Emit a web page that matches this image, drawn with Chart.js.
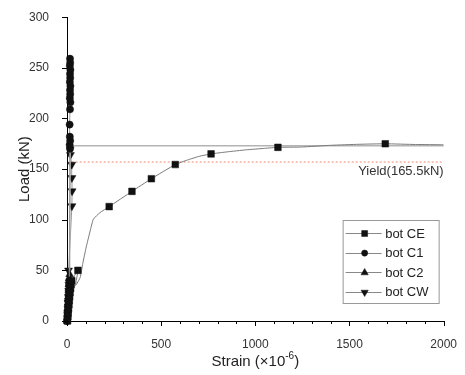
<!DOCTYPE html>
<html><head><meta charset="utf-8">
<script src="https://cdn.jsdelivr.net/npm/chart.js@4/dist/chart.umd.min.js"></script>
<style>html,body{margin:0;padding:0;background:#fff;}#wrap{width:465px;height:375px;}</style>
</head><body><div id="wrap"><canvas id="c" width="465" height="375"></canvas></div>
<script>
// ---- data ----
const seriesNames = ['bot CE', 'bot C1', 'bot C2', 'bot CW'];

const ceStrain = [2, 4, 6, 8, 10, 12, 14, 16, 19, 22, 25, 58, 45, 70, 84, 102, 123, 140, 175, 224, 345, 448, 575, 640, 700, 765, 850, 950, 1050, 1120, 1245, 1400, 1550, 1690, 1850, 2000];
const ceLoad   = [0, 4, 8, 12, 16, 20, 24, 28, 32, 36, 40, 50, 35, 43, 57, 73, 89, 100.5, 107, 113, 128, 140.5, 154.5, 159, 162.5, 165, 167, 169, 170.5, 171.5, 171.8, 173.5, 174.5, 175, 174.3, 174];
const ceMarkedIdx = [0, 1, 2, 3, 4, 5, 6, 7, 8, 9, 10, 11, 19, 20, 21, 22, 25, 29, 33];

const c1Strain = [0, 2, 3, 5, 6, 8, 9, 11, 12, 16, 14, 17, 15, 14, 16, 18, 15, 17, 16, 18, 15, 17, 16, 18, 15, 17, 16];
const c1Load   = [0, 5, 10, 15, 20, 25, 30, 35, 40, 170, 174, 178, 182, 194, 209, 216, 220, 224, 228, 232, 236, 240, 244, 248, 252, 255, 259];

const c2Strain = [1, 3, 4, 6, 7, 9, 10, 12, 14, 17, 2050];
const c2Load   = [0, 6, 12, 18, 24, 30, 36, 42, 46, 173, 173];

const cwStrain = [2, 3, 5, 6, 8, 9, 10, 8, 26, 27, 26, 25, 18];
const cwLoad   = [0, 6, 12, 18, 24, 30, 36, 50, 113.5, 128.3, 141.3, 154.5, 164];

const yieldStrain = [25, 2000];
const yieldLoad   = [157, 157];
const yieldLabel  = 'Yield(165.5kN)';

const xTickValues = [0, 500, 1000, 1500, 2000];
const yTickValues = [0, 50, 100, 150, 200, 250, 300];
const xTitleParts = ['Strain (\u00d710', '-6', ')'];
const yTitleText  = 'Load (kN)';

// ---- chart ----
const FONT = '"Liberation Sans", Arial, sans-serif';
const pts = (xs, ys) => xs.map((x, i) => ({ x: x, y: ys[i] }));
const styles = ['rect', 'circle', 'triangle', 'triangle'];
const rotations = [0, 0, 0, 180];
const radii = [4.7, 3.6, 4.5, 4.6];

function seriesDs(i, data, lineColor, lineWidth, tension, radiusFn) {
  return {
    label: seriesNames[i],
    data: data,
    showLine: true,
    borderColor: lineColor,
    borderWidth: lineWidth,
    backgroundColor: '#111',
    pointBackgroundColor: '#111',
    pointBorderColor: '#111',
    pointBorderWidth: 0.5,
    pointStyle: styles[i],
    pointRotation: rotations[i],
    pointRadius: radiusFn || radii[i],
    tension: tension,
    clip: { left: 10, top: 10, right: 0, bottom: 10 }
  };
}

const datasets = [
  seriesDs(0, pts(ceStrain, ceLoad), '#7a7a7a', 1, 0.15, ctx => ceMarkedIdx.includes(ctx.dataIndex) ? radii[0] : 0),
  seriesDs(1, pts(c1Strain, c1Load), '#999', 1, 0),
  seriesDs(2, pts(c2Strain, c2Load), '#b4b4b4', 1.4, 0),
  seriesDs(3, pts(cwStrain, cwLoad), '#999', 1, 0),
  {
    label: 'Yield',
    data: pts(yieldStrain, yieldLoad),
    showLine: true,
    borderColor: '#f28a6a',
    borderWidth: 1,
    borderDash: [2, 2],
    pointRadius: 0,
    order: 10
  }
];

const tickPlugin = {
  id: 'ticksDraw',
  afterDraw(chart) {
    const ctx = chart.ctx, xs = chart.scales.x, ys = chart.scales.y;
    ctx.save();
    ctx.strokeStyle = '#000';
    ctx.lineWidth = 1;
    ctx.beginPath();
    for (let v = xs.min; v <= xs.max; v += 100) {
      const px = Math.round(xs.getPixelForValue(v)) + 0.5;
      const len = (v % 500 === 0) ? 5 : 3;
      ctx.moveTo(px, ys.bottom);
      ctx.lineTo(px, ys.bottom + len);
    }
    yTickValues.forEach(v => {
      const py = Math.round(ys.getPixelForValue(v)) + 0.5;
      ctx.moveTo(xs.left, py);
      ctx.lineTo(xs.left - 5, py);
    });
    ctx.stroke();
    ctx.restore();
  }
};

const textPlugin = {
  id: 'texts',
  afterDraw(chart) {
    const ctx = chart.ctx, a = chart.chartArea, ys = chart.scales.y;
    ctx.save();
    // yield label
    ctx.font = '13px ' + FONT;
    ctx.fillStyle = '#333';
    ctx.textAlign = 'right';
    ctx.textBaseline = 'middle';
    ctx.fillText(yieldLabel, a.right, ys.getPixelForValue(yieldLoad[0]) + 9);
    // x title with superscript
    const mainF = '15px ' + FONT, supF = '10px ' + FONT;
    ctx.font = mainF; const w0 = ctx.measureText(xTitleParts[0]).width;
    const w2 = ctx.measureText(xTitleParts[2]).width;
    ctx.font = supF; const w1 = ctx.measureText(xTitleParts[1]).width;
    const total = w0 + w1 + w2;
    let x = (a.left + a.right) / 2 - total / 2;
    const y = 362;
    ctx.textAlign = 'left';
    ctx.fillStyle = '#222';
    ctx.font = mainF; ctx.fillText(xTitleParts[0], x, y); x += w0;
    ctx.font = supF; ctx.fillText(xTitleParts[1], x, y - 6); x += w1;
    ctx.font = mainF; ctx.fillText(xTitleParts[2], x, y);
    // legend box
    const bx = a.right - 100.5, by = a.bottom - 100.5, bw = 96, bh = 83;
    ctx.fillStyle = '#fff';
    ctx.fillRect(bx, by, bw, bh);
    ctx.strokeStyle = '#999';
    ctx.lineWidth = 1;
    ctx.strokeRect(bx, by, bw, bh);
    const legR = [4.2, 3.1, 4.2, 4.2];
    seriesNames.forEach((name, i) => {
      const ry = by + 12.5 + i * 19.6;
      ctx.strokeStyle = '#888';
      ctx.lineWidth = 1;
      ctx.beginPath();
      ctx.moveTo(bx + 2.5, Math.round(ry) + 0.5);
      ctx.lineTo(bx + 38.5, Math.round(ry) + 0.5);
      ctx.stroke();
      ctx.fillStyle = '#111';
      ctx.strokeStyle = '#111';
      ctx.lineWidth = 0.5;
      Chart.helpers.drawPoint(ctx, { pointStyle: styles[i], radius: legR[i], rotation: rotations[i], borderWidth: 0.5 }, bx + 21.5, ry + 0.5);
      ctx.font = '13px ' + FONT;
      ctx.fillStyle = '#222';
      ctx.textAlign = 'left';
      ctx.textBaseline = 'middle';
      ctx.fillText(name, bx + 42, ry + 1);
    });
    ctx.restore();
  }
};

new Chart(document.getElementById('c'), {
  type: 'scatter',
  data: { datasets: datasets },
  options: {
    responsive: false,
    devicePixelRatio: 1,
    animation: false,
    layout: { padding: { left: 16, right: 18, top: 15, bottom: 4 } },
    plugins: { legend: { display: false }, tooltip: { enabled: false } },
    scales: {
      x: {
        type: 'linear', min: 0, max: 2000,
        afterBuildTicks: s => { s.ticks = xTickValues.map(v => ({ value: v })); },
        ticks: { padding: 8, color: '#333', font: { family: FONT, size: 12 }, maxRotation: 0, callback: v => String(v) },
        grid: { display: false },
        border: { display: true, color: '#000', width: 1 },
        afterFit: s => { s.height = 50; }
      },
      y: {
        type: 'linear', min: 0, max: 300,
        afterBuildTicks: s => { s.ticks = yTickValues.map(v => ({ value: v })); },
        ticks: { padding: 10, color: '#333', font: { family: FONT, size: 12 }, callback: v => String(v) },
        grid: { display: false },
        border: { display: true, color: '#000', width: 1 },
        title: { display: true, text: yTitleText, color: '#222', font: { family: FONT, size: 15 }, padding: 0 },
        afterFit: s => { s.width = 51; }
      }
    }
  },
  plugins: [tickPlugin, textPlugin]
});
</script>
</body></html>
